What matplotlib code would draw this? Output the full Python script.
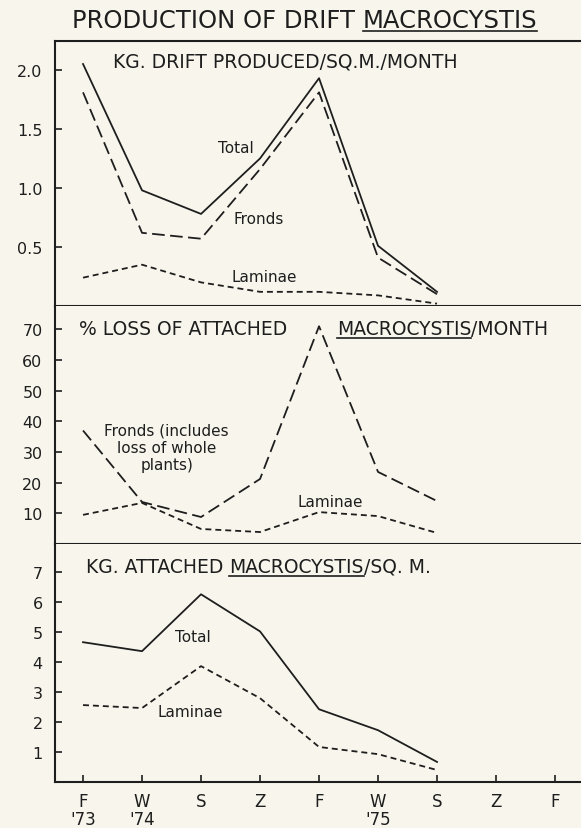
import matplotlib.pyplot as plt
from matplotlib.lines import Line2D

# seasons along the bottom axis
months = ["F\n'73", "W\n'74", "S", "Z", "F", "W\n'75", "S", "Z", "F"]
x = [0, 1, 2, 3, 4, 5, 6]

# kg drift produced / sq.m. / month
drift_total = [2.05, 0.98, 0.78, 1.25, 1.93, 0.51, 0.12]
drift_fronds = [1.81, 0.62, 0.57, 1.16, 1.81, 0.41, 0.10]
drift_laminae = [0.24, 0.35, 0.20, 0.12, 0.12, 0.09, 0.02]

# % loss of attached macrocystis / month
loss_fronds = [37, 13.7, 8.8, 21.2, 71, 23.5, 14]
loss_laminae = [9.5, 13.4, 4.9, 3.9, 10.4, 9.1, 3.6]

# kg attached macrocystis / sq.m.
att_total = [4.67, 4.37, 6.27, 5.03, 2.43, 1.73, 0.67]
att_laminae = [2.57, 2.47, 3.87, 2.8, 1.17, 0.93, 0.4]

W, H = 581, 829
BG = '#f8f6ec'
INK = '#1e1e1e'
LW = 1.3
LONG = (7, 3)
SHORT = (3.3, 2.2)

plt.rcParams['font.family'] = 'DejaVu Sans'
fig = plt.figure(figsize=(W / 100, H / 100), dpi=100, facecolor=BG)


def box(top, bottom):
    return [55 / W, 1 - bottom / H, (W - 55) / W, (bottom - top) / H]


def style(ax, ylim, yticks, ylabels):
    ax.set_facecolor(BG)
    ax.set_xlim(-0.475, 8.44)
    ax.set_ylim(*ylim)
    ax.set_yticks(yticks)
    ax.set_yticklabels(ylabels)
    ax.spines['right'].set_visible(False)
    for s in ax.spines.values():
        s.set_color(INK)
        s.set_linewidth(1.5)
    ax.tick_params(axis='y', direction='in', length=5, width=1.2, pad=9,
                   labelsize=11.5, colors=INK)
    ax.set_xticks(range(len(months)))


ax1 = fig.add_axes(box(42, 307))
ax2 = fig.add_axes(box(307, 545))
ax3 = fig.add_axes(box(545, 783))

# top panel
ax1.plot(x, drift_total, color=INK, lw=LW)
ax1.plot(x, drift_fronds, color=INK, lw=LW, dashes=LONG)
ax1.plot(x, drift_laminae, color=INK, lw=LW, dashes=SHORT)
style(ax1, (0, 2.245), [0.5, 1.0, 1.5, 2.0], ['0.5', '1.0', '1.5', '2.0'])
ax1.tick_params(axis='x', length=0, labelbottom=False)
ax1.text(2.59, 1.34, 'Total', fontsize=11, ha='center', va='center', color=INK)
ax1.text(2.98, 0.74, 'Fronds', fontsize=11, ha='center', va='center', color=INK)
ax1.text(3.07, 0.25, 'Laminae', fontsize=11, ha='center', va='center', color=INK)

# middle panel
ax2.plot(x, loss_fronds, color=INK, lw=LW, dashes=LONG)
ax2.plot(x, loss_laminae, color=INK, lw=LW, dashes=SHORT)
style(ax2, (0, 77.6), [10, 20, 30, 40, 50, 60, 70],
      ['10', '20', '30', '40', '50', '60', '70'])
ax2.spines['top'].set_visible(False)
ax2.tick_params(axis='x', length=0, labelbottom=False)
ax2.text(1.42, 31.5, 'Fronds (includes\nloss of whole\nplants)', fontsize=11,
         ha='center', va='center', linespacing=1.2, color=INK)
ax2.text(4.19, 14.0, 'Laminae', fontsize=11, ha='center', va='center', color=INK)

# bottom panel
ax3.plot(x, att_total, color=INK, lw=LW)
ax3.plot(x, att_laminae, color=INK, lw=LW, dashes=SHORT)
style(ax3, (0, 7.95), [1, 2, 3, 4, 5, 6, 7], ['1', '2', '3', '4', '5', '6', '7'])
ax3.spines['top'].set_visible(False)
ax3.set_xticklabels(months)
ax3.tick_params(axis='x', direction='in', length=5, width=1.2, pad=7,
                labelsize=12, colors=INK)
for lab in ax3.get_xticklabels():
    lab.set_linespacing(1.05)
ax3.text(1.86, 4.87, 'Total', fontsize=11, ha='center', va='center', color=INK)
ax3.text(1.81, 2.37, 'Laminae', fontsize=11, ha='center', va='center', color=INK)

renderer = fig.canvas.get_renderer()


def heading(parts, y, size, gap=0.32):
    # parts: (text, underlined, fixed left x or None); y is the baseline in px
    xpos = None
    for s, ul, fx in parts:
        if fx is not None:
            xpos = fx
        elif not s.startswith('/'):
            xpos += gap * size * 100 / 72
        t = fig.text(xpos / W, 1 - y / H, s, fontsize=size, ha='left',
                     va='baseline', color=INK)
        bb = t.get_window_extent(renderer=renderer)
        if ul:
            yy = 1 - (y + 4) / H
            fig.add_artist(Line2D([bb.x0 / W, bb.x1 / W], [yy, yy],
                                  color=INK, lw=1.2))
        xpos = bb.x1
    return xpos


heading([('PRODUCTION OF DRIFT', False, 72), ('MACROCYSTIS', True, None)], 28, 17.5)
heading([('KG. DRIFT PRODUCED/SQ.M./MONTH', False, 113)], 68, 13.5)
heading([('% LOSS OF ATTACHED', False, 79), ('MACROCYSTIS', True, 337),
         ('/MONTH', False, None)], 335, 13.5)
heading([('KG. ATTACHED', False, 86), ('MACROCYSTIS', True, None),
         ('/SQ. M.', False, None)], 573, 13.5)

fig.savefig('out.png', dpi=100, facecolor=BG)
